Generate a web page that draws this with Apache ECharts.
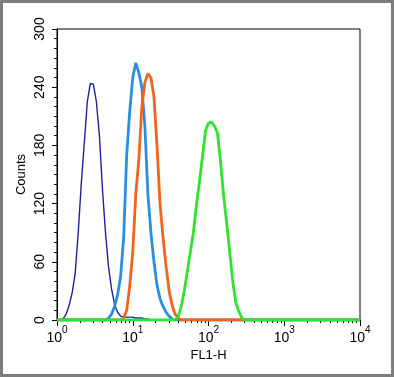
<!DOCTYPE html>
<html>
<head>
<meta charset="utf-8">
<script src="https://cdn.jsdelivr.net/npm/echarts@6/dist/echarts.min.js"></script>
<style>
  html, body { margin: 0; padding: 0; background: #fff; }
  #chart { width: 394px; height: 377px; }
</style>
</head>
<body>
<div id="chart"></div>
<script>
// FL1-H channels, in log10 units (10^0 .. 10^2.48), plus the right end of the axis
var channels = [0.00, 0.04, 0.08, 0.12, 0.16, 0.20, 0.24, 0.28, 0.32, 0.36,
  0.40, 0.44, 0.48, 0.52, 0.56, 0.60, 0.64, 0.68, 0.72, 0.76,
  0.80, 0.84, 0.88, 0.92, 0.96, 1.00, 1.04, 1.08, 1.12, 1.16,
  1.20, 1.24, 1.28, 1.32, 1.36, 1.40, 1.44, 1.48, 1.52, 1.56,
  1.60, 1.64, 1.68, 1.72, 1.76, 1.80, 1.84, 1.88, 1.92, 1.96,
  2.00, 2.04, 2.08, 2.12, 2.16, 2.20, 2.24, 2.28, 2.32, 2.36,
  2.40, 2.44, 2.48, 4.00];

// counts per channel; each list starts at the channel index given next to it
var navyStart = 0;
var navyCounts = [0, 0, 1, 6, 15, 28, 48, 90, 140, 182, 225, 244, 243, 225, 190, 135,
  90, 55, 32, 16, 8, 4, 3, 3, 3, 3, 2, 2, 2, 1, 1, 0];
var blueStart = 16;
var blueCounts = [0, 2, 6, 14, 26, 45, 85, 170, 215, 250, 265, 255, 240, 200, 130,
  90, 60, 36, 22, 14, 8, 4, 1, 0];
var orangeStart = 21;
var orangeCounts = [0, 2, 10, 35, 70, 130, 165, 220, 245, 254, 250, 230, 180, 120,
  85, 55, 30, 15, 6, 2, 0];
var greenStart = 39;
var greenCounts = [0, 3, 14, 30, 50, 70, 90, 118, 142, 168, 195, 203, 204, 200, 192,
  162, 128, 100, 70, 40, 18, 9, 2, 0];

function toData(start, counts) {
  return channels.map(function (c, i) {
    var v = counts[i - start];
    return [c, v === undefined ? 0 : v];
  });
}

// 2..9 inside each decade
var minorTicks = [];
for (var d = 0; d < 4; d++) {
  for (var k = 2; k <= 9; k++) minorTicks.push(d + Math.log10(k));
}

var font = 'Liberation Sans, Arial, sans-serif';
var chart = echarts.init(document.getElementById('chart'));
chart.setOption({
  animation: false,
  grid: {left: 57, right: 34, top: 29, bottom: 57, show: true, borderColor: '#000', borderWidth: 1},
  graphic: [{
    type: 'rect', silent: true,
    shape: {x: 1.5, y: 1.5, width: 391, height: 374},
    style: {fill: 'none', stroke: '#7d7d7d', lineWidth: 3}
  }],
  xAxis: [{
    type: 'value', min: 0, max: 4, interval: 1,
    name: 'FL1-H', nameLocation: 'middle', nameGap: 29, nameMoveOverlap: false,
    nameTextStyle: {color: '#000', fontSize: 13, fontFamily: font},
    axisLine: {onZero: false, lineStyle: {color: '#000', width: 1}},
    axisTick: {length: 6, lineStyle: {color: '#000'}},
    splitLine: {show: false},
    axisLabel: {
      margin: 5, color: '#000',
      formatter: function (v) { return '{b|10}{s|' + v + '}'; },
      rich: {
        b: {fontSize: 14, fontFamily: font, color: '#000', lineHeight: 20, verticalAlign: 'bottom'},
        s: {fontSize: 10, fontFamily: font, color: '#000', lineHeight: 20, verticalAlign: 'top'}
      }
    }
  }, {
    type: 'value', min: 0, max: 4, position: 'bottom',
    axisLine: {show: true, onZero: false, lineStyle: {color: '#000', width: 1}},
    axisLabel: {show: false},
    splitLine: {show: false},
    axisTick: {show: true, length: 3, customValues: minorTicks, lineStyle: {color: '#000', width: 1}}
  }],
  yAxis: {
    type: 'value', min: 0, max: 300, interval: 60,
    name: 'Counts', nameLocation: 'middle', nameGap: 29, nameRotate: 90, nameMoveOverlap: false,
    nameTextStyle: {color: '#000', fontSize: 13, fontFamily: font},
    axisLine: {show: true, lineStyle: {color: '#000', width: 1}},
    axisTick: {show: true, length: 5, lineStyle: {color: '#000'}},
    minorTick: {show: true, splitNumber: 6, length: 3, lineStyle: {color: '#000'}},
    splitLine: {show: false},
    axisLabel: {rotate: 90, margin: 10, color: '#000', fontSize: 14, fontFamily: font}
  },
  series: [
    {type: 'line', showSymbol: false, data: toData(navyStart, navyCounts),
      lineStyle: {color: '#1f1f9e', width: 1.4}, z: 2},
    {type: 'line', showSymbol: false, data: toData(blueStart, blueCounts),
      lineStyle: {color: '#2a8ee0', width: 2.8}, z: 3},
    {type: 'line', showSymbol: false, data: toData(orangeStart, orangeCounts),
      lineStyle: {color: '#f0641e', width: 2.8}, z: 4},
    {type: 'line', showSymbol: false, data: toData(greenStart, greenCounts),
      lineStyle: {color: '#2fe32f', width: 2.8}, z: 5}
  ]
});
</script>
</body>
</html>
